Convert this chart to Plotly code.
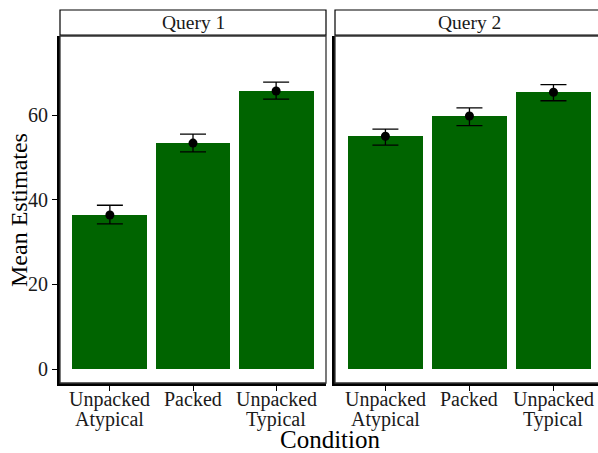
import plotly.graph_objects as go

conditions_line1 = ["Unpacked", "Packed", "Unpacked"]
conditions_line2 = ["Atypical", "", "Typical"]
positions = [1, 2, 3]

q1_means = [36.4, 53.4, 65.7]
q1_upper = [38.7, 55.5, 67.8]
q1_lower = [34.3, 51.3, 63.8]

q2_means = [55.0, 59.8, 65.4]
q2_upper = [56.7, 61.7, 67.2]
q2_lower = [52.9, 57.5, 63.4]

panels = ["Query 1", "Query 2"]
y_ticks = [0, 20, 40, 60]

FONT = "Liberation Serif"
GREEN = "#006400"
TXT = "#1a1a1a"

fig = go.Figure()

for i, (m, u, l) in enumerate([(q1_means, q1_upper, q1_lower), (q2_means, q2_upper, q2_lower)]):
    xa = "x" if i == 0 else "x2"
    ya = "y" if i == 0 else "y2"
    fig.add_trace(go.Bar(x=positions, y=m, width=0.9, marker=dict(color=GREEN, line=dict(width=0)),
                         xaxis=xa, yaxis=ya, showlegend=False))
    fig.add_trace(go.Scatter(x=positions, y=m, mode="markers",
                             marker=dict(color="black", size=9),
                             error_y=dict(type="data", symmetric=False,
                                          array=[uu - mm for uu, mm in zip(u, m)],
                                          arrayminus=[mm - ll for mm, ll in zip(m, l)],
                                          color="black", thickness=1.3, width=13),
                             xaxis=xa, yaxis=ya, showlegend=False))

L, R, T, B = 60, 0, 36, 70
W, H = 598, 453
pw = W - L - R
d1 = [0, 266 / pw]
d2 = [275 / pw, 1]

xcommon = dict(tickvals=positions, showticklabels=False, ticks="outside", ticklen=5,
               tickcolor="black", tickwidth=1, showline=True, linecolor="black", linewidth=3,
               showgrid=False, zeroline=False)
ycommon = dict(range=[-3.3, 78.7], showgrid=False, zeroline=False, showline=True,
               linecolor="black", linewidth=3)

fig.update_layout(
    width=W, height=H,
    margin=dict(l=L, r=R, t=T, b=B),
    plot_bgcolor="white", paper_bgcolor="white",
    bargap=0,
    xaxis=dict(domain=d1, range=[0.4, 3.6], anchor="y", **xcommon),
    xaxis2=dict(domain=d2, range=[0.4, 3.53], anchor="y2", **xcommon),
    yaxis=dict(anchor="x", tickvals=y_ticks, ticks="outside", ticklen=5, tickcolor="black",
               tickfont=dict(family=FONT, size=20, color=TXT), **ycommon),
    yaxis2=dict(anchor="x2", matches="y", showticklabels=False, ticks="", **ycommon),
    font=dict(family=FONT),
)

ph = H - T - B
def py(pix):
    return (H - B - pix) / ph

def px(pix):
    return (pix - L) / pw

shapes = []
annotations = []
for dom, name in [(d1, panels[0]), (d2, panels[1])]:
    x1 = dom[1] if dom[1] < 1 else 1.005
    shapes.append(dict(type="rect", xref="paper", yref="paper", x0=dom[0], x1=x1,
                       y0=0, y1=1, line=dict(color="#333", width=1.3), fillcolor="rgba(0,0,0,0)", layer="above"))
    shapes.append(dict(type="rect", xref="paper", yref="paper", x0=dom[0], x1=x1,
                       y0=py(35), y1=py(10), line=dict(color="black", width=1.2), fillcolor="white"))
    cx = (dom[0] + (dom[1] if dom[1] < 1 else px(604))) / 2
    annotations.append(dict(text=name, xref="paper", yref="paper", x=cx, xanchor="center",
                            y=(py(35) + py(10)) / 2, showarrow=False, yanchor="middle",
                            font=dict(family=FONT, size=19.5, color=TXT)))

for xa in ["x", "x2"]:
    for pos, t1, t2 in zip(positions, conditions_line1, conditions_line2):
        annotations.append(dict(text=t1, xref=xa, yref="paper", x=pos, y=py(399), xanchor="center",
                                showarrow=False, yanchor="middle",
                                font=dict(family=FONT, size=20, color=TXT)))
        if t2:
            annotations.append(dict(text=t2, xref=xa, yref="paper", x=pos, y=py(419.5), xanchor="center",
                                    showarrow=False, yanchor="middle",
                                    font=dict(family=FONT, size=20, color=TXT)))

annotations.append(dict(text="Mean Estimates", xref="paper", yref="paper", x=px(19), y=py(210),
                        textangle=-90, showarrow=False, xanchor="center", yanchor="middle",
                        font=dict(family=FONT, size=24, color="black")))
annotations.append(dict(text="Condition", xref="paper", yref="paper", x=px(330), y=py(439),
                        xanchor="center", showarrow=False, yanchor="middle",
                        font=dict(family=FONT, size=25, color="black")))

fig.update_layout(shapes=shapes, annotations=annotations)
fig.write_html("out.html", config={"displayModeBar": False},
               post_script="document.body.style.margin='0';document.body.style.overflow='hidden';")
